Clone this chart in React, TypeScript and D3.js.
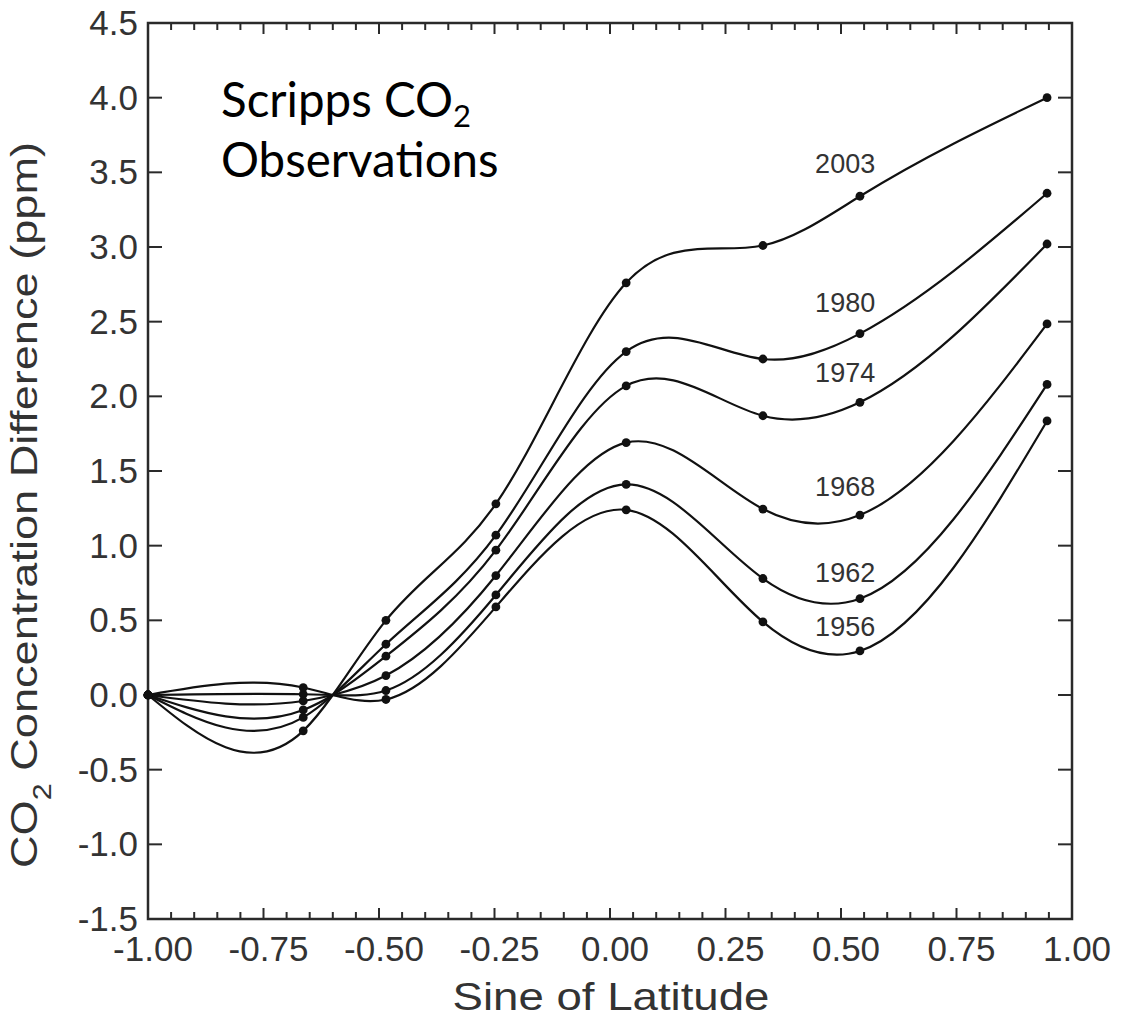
import React from "react";
import * as d3 from "d3";

// Station positions (sine of latitude)
const SIN_LAT = [-1, -0.664, -0.6, -0.485, -0.247, 0.035, 0.331, 0.541, 0.946];
const STATION_MARKED = [true, true, false, true, true, true, true, true, true];

// Series (ppm difference relative to South Pole)
const YEARS = ["2003", "1980", "1974", "1968", "1962", "1956"];
const V2003 = [0, -0.24, 0, 0.5, 1.28, 2.76, 3.01, 3.34, 4.0];
const V1980 = [0, -0.15, 0, 0.34, 1.07, 2.3, 2.25, 2.42, 3.36];
const V1974 = [0, -0.1, 0, 0.26, 0.97, 2.07, 1.87, 1.96, 3.02];
const V1968 = [0, -0.04, 0, 0.13, 0.8, 1.69, 1.245, 1.205, 2.485];
const V1962 = [0, 0.005, 0, 0.03, 0.67, 1.41, 0.78, 0.645, 2.08];
const V1956 = [0, 0.05, 0, -0.03, 0.59, 1.24, 0.49, 0.295, 1.835];
const SERIES = [V2003, V1980, V1974, V1968, V1962, V1956];

// Year label anchors (data units)
const LABEL_X = 0.509;
const LABEL_Y = [3.495, 2.565, 2.096, 1.333, 0.757, 0.395];

const X_TICKS = [-1, -0.75, -0.5, -0.25, 0, 0.25, 0.5, 0.75, 1];
const Y_TICKS = [-1.5, -1, -0.5, 0, 0.5, 1, 1.5, 2, 2.5, 3, 3.5, 4, 4.5];

// Natural cubic spline y(x) curve factory
class NaturalX {
  _context: any;
  _x: number[] = [];
  _y: number[] = [];
  constructor(ctx: any) {
    this._context = ctx;
  }
  areaStart() {}
  areaEnd() {}
  lineStart() {
    this._x = [];
    this._y = [];
  }
  point(x: number, y: number) {
    this._x.push(+x);
    this._y.push(+y);
  }
  lineEnd() {
    const xs = this._x, ys = this._y, n = xs.length, ctx = this._context;
    if (n === 0) return;
    ctx.moveTo(xs[0], ys[0]);
    if (n === 1) return;
    if (n === 2) {
      ctx.lineTo(xs[1], ys[1]);
      return;
    }
    const h: number[] = [];
    for (let i = 0; i < n - 1; i++) h[i] = xs[i + 1] - xs[i];
    const m = n - 2;
    const a: number[] = [], b: number[] = [], c: number[] = [], r: number[] = [];
    for (let i = 1; i < n - 1; i++) {
      a.push(h[i - 1]);
      b.push(2 * (h[i - 1] + h[i]));
      c.push(h[i]);
      r.push(6 * ((ys[i + 1] - ys[i]) / h[i] - (ys[i] - ys[i - 1]) / h[i - 1]));
    }
    for (let i = 1; i < m; i++) {
      const w = a[i] / b[i - 1];
      b[i] -= w * c[i - 1];
      r[i] -= w * r[i - 1];
    }
    const M = new Array(n).fill(0);
    M[m] = r[m - 1] / b[m - 1];
    for (let i = m - 2; i >= 0; i--) M[i + 1] = (r[i] - c[i] * M[i + 2]) / b[i];
    for (let i = 0; i < n - 1; i++) {
      const hi = h[i];
      const s = (ys[i + 1] - ys[i]) / hi;
      const d0 = s - (hi * (2 * M[i] + M[i + 1])) / 6;
      const d1 = s + (hi * (M[i] + 2 * M[i + 1])) / 6;
      ctx.bezierCurveTo(
        xs[i] + hi / 3, ys[i] + (d0 * hi) / 3,
        xs[i + 1] - hi / 3, ys[i + 1] - (d1 * hi) / 3,
        xs[i + 1], ys[i + 1]
      );
    }
  }
}
const curveNaturalX = (ctx: any) => new NaturalX(ctx);

export default function App() {
  const W = 1133, H = 1018;
  const x = d3.scaleLinear().domain([-1, 1]).range([148, 1072]);
  const y = d3.scaleLinear().domain([-1.5, 4.5]).range([919, 23]);
  const line = d3
    .line<number>()
    .x((_, i) => x(SIN_LAT[i]))
    .y((d) => y(d))
    .curve(curveNaturalX as any);

  const axisColor = "#2a2a2a";
  const textColor = "#333";
  const minor = d3.range(0, 41).map((i) => -1 + i * 0.05).filter((_, i) => i % 5 !== 0);
  const [x0, x1] = x.range();
  const [yb, yt] = y.range();

  return (
    <svg
      width={W}
      height={H}
      style={{ position: "absolute", left: 0, top: 0, display: "block", background: "#fff" }}
      fontFamily="'Liberation Sans', Arial, sans-serif"
    >
      <rect x={0} y={0} width={W} height={H} fill="#fff" />
      {/* ticks */}
      <g stroke={axisColor} strokeWidth={2}>
        {X_TICKS.map((t) => (
          <g key={"xt" + t}>
            <line x1={x(t)} x2={x(t)} y1={yb} y2={yb - 11} />
            <line x1={x(t)} x2={x(t)} y1={yt} y2={yt + 11} />
          </g>
        ))}
        {minor.map((t) => (
          <g key={"xm" + t}>
            <line x1={x(t)} x2={x(t)} y1={yb} y2={yb - 7} />
            <line x1={x(t)} x2={x(t)} y1={yt} y2={yt + 7} />
          </g>
        ))}
        {Y_TICKS.map((t) => (
          <g key={"yt" + t}>
            <line x1={x0} x2={x0 + 14} y1={y(t)} y2={y(t)} />
            <line x1={x1} x2={x1 - 14} y1={y(t)} y2={y(t)} />
          </g>
        ))}
      </g>
      <rect x={x0} y={yt} width={x1 - x0} height={yb - yt} fill="none" stroke={axisColor} strokeWidth={2.5} />

      {/* tick labels */}
      <g fill={textColor} fontSize={35}>
        {X_TICKS.map((t) => (
          <text key={"xl" + t} x={x(t) + 5} y={961} textAnchor="middle">
            {t.toFixed(2)}
          </text>
        ))}
        {Y_TICKS.map((t) => (
          <text key={"yl" + t} x={138} y={y(t)} dy="0.34em" textAnchor="end">
            {t.toFixed(1)}
          </text>
        ))}
      </g>

      {/* axis titles */}
      <text
        fill={textColor}
        fontSize={38}
        textAnchor="middle"
        transform={`translate(611, 1010) scale(1.2, 1)`}
      >
        Sine of Latitude
      </text>
      <text
        fill={textColor}
        fontSize={37}
        textAnchor="middle"
        transform={`translate(37, 505) rotate(-90) scale(1.22, 1)`}
      >
        <tspan>CO</tspan>
        <tspan fontSize={25} dy={14}>2</tspan>
        <tspan dy={-14}> Concentration Difference (ppm)</tspan>
      </text>

      {/* curves */}
      <g fill="none" stroke="#111" strokeWidth={2.2}>
        {SERIES.map((s, k) => (
          <path key={"p" + k} d={line(s) || ""} />
        ))}
      </g>
      <g fill="#111">
        {SERIES.map((s, k) =>
          s.map((v, i) =>
            STATION_MARKED[i] ? <circle key={k + "-" + i} cx={x(SIN_LAT[i])} cy={y(v)} r={4.4} /> : null
          )
        )}
      </g>

      {/* year labels */}
      <g fill="#333" fontSize={27} textAnchor="middle">
        {YEARS.map((yr, k) => (
          <text key={yr} x={x(LABEL_X)} y={y(LABEL_Y[k])}>
            {yr}
          </text>
        ))}
      </g>

      {/* annotation */}
      <g fill="#000" fontFamily="Lato, 'Open Sans', sans-serif" fontSize={47.5}>
        <text x={221} y={117}>
          Scripps CO<tspan fontSize={31} dy={10}>2</tspan>
        </text>
        <text x={221} y={177}>Observations</text>
      </g>
    </svg>
  );
}
